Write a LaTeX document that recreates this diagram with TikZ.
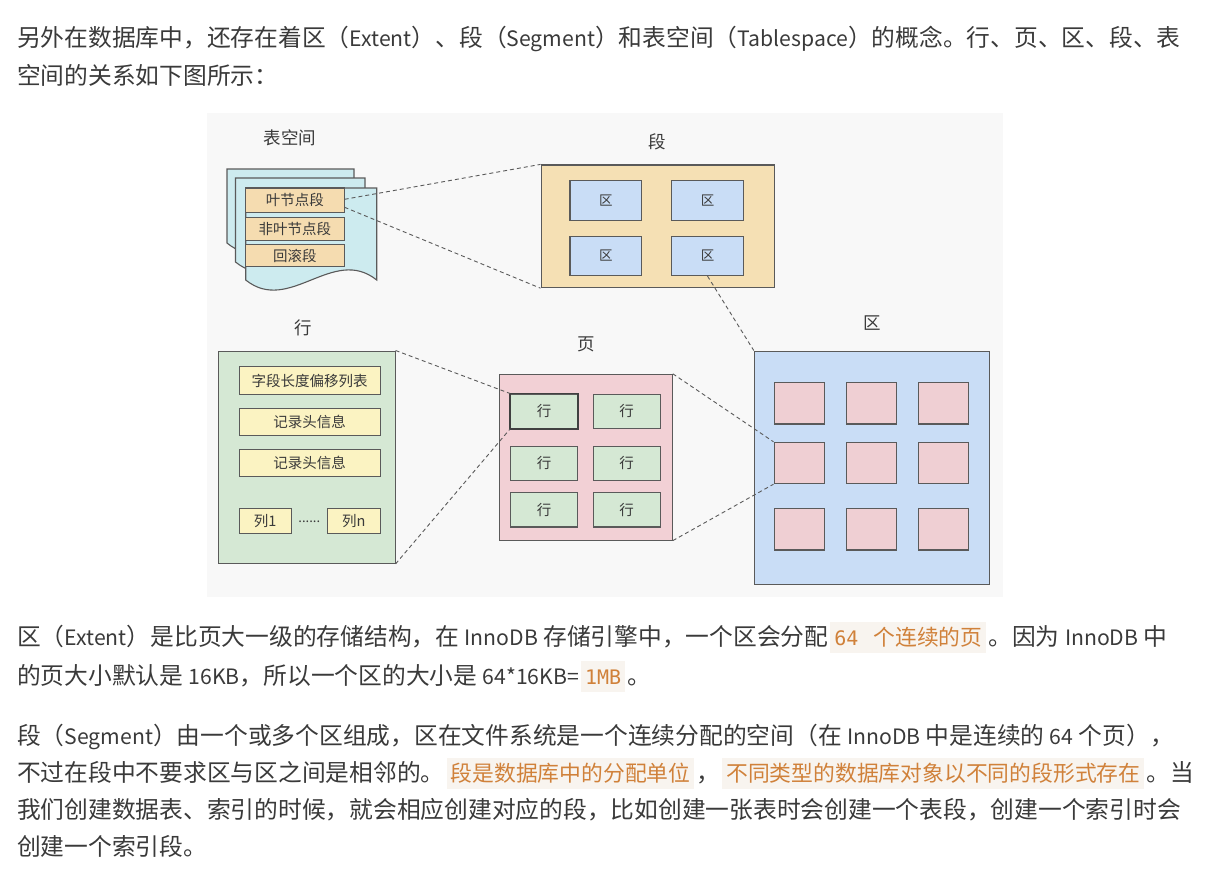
\documentclass[tikz,border=0pt]{standalone}
\usepackage{fontspec}
\setmainfont{Noto Sans CJK SC}
\newfontfamily\codefont{DejaVu Sans Mono}
\usetikzlibrary{calc}

\definecolor{txt}{HTML}{3A3A3A}
\definecolor{codeor}{HTML}{D0813A}
\definecolor{hlbg}{HTML}{F8F4EF}
\definecolor{panelbg}{HTML}{F8F8F8}
\definecolor{bord}{HTML}{5A5A5A}
\definecolor{sheetfill}{HTML}{CDEBEF}
\definecolor{segitem}{HTML}{F5DCB0}
\definecolor{segfill}{HTML}{F5E0B4}
\definecolor{extfill}{HTML}{C9DDF6}
\definecolor{rowfill}{HTML}{D5E8D4}
\definecolor{fieldfill}{HTML}{FBF3C2}
\definecolor{pagefill}{HTML}{F2D0D5}
\definecolor{slotfill}{HTML}{EFCFD3}

% Latin words inside the Chinese running text
\newcommand\lat[1]{{\fontsize{21.2}{26}\selectfont #1}}
% inline highlighted span
\newcommand\hlspan[1]{\hspace{2pt}{\setlength{\fboxsep}{0pt}\colorbox{hlbg}{\rule[-8pt]{0pt}{31pt}\hspace{4pt}\fontsize{21.8}{26}\selectfont\color{codeor}#1\hspace{4pt}}}\hspace{2pt}}
\newcommand\codetxt[1]{{\codefont\fontsize{20}{24}\selectfont #1}}

\begin{document}
\begin{tikzpicture}[x=1pt,y=-1pt,
  para/.style={anchor=base west, inner sep=0pt, text=txt, font=\fontsize{23.75}{28}\selectfont},
  cell/.style={draw=bord, line width=1.1pt, rectangle, inner sep=0pt, text=txt},
  title/.style={text=txt, inner sep=0pt, font=\fontsize{17.5}{20}\selectfont},
  small/.style={font=\fontsize{14.5}{17}\selectfont},
  tiny/.style={font=\fontsize{13.5}{16}\selectfont},
  dlink/.style={draw=bord, dash pattern=on 4pt off 3pt, line width=0.9pt},
  sheet/.style={draw=bord, line width=1.1pt, fill=sheetfill}]
\useasboundingbox (0,0) rectangle (1211,881);
\fill[white] (0,0) rectangle (1211,881);

% ---------- text above ----------
\node[para] (p1a) at (17,46) {另外在数据库中，还存在着区（\lat{Extent}）、段（\lat{Segment}）和表空间（\lat{Tablespace}）的概念。行、页、区、段、表};
\node[para] (p1b) at (17,84) {空间的关系如下图所示：};

% ---------- diagram ----------
\fill[panelbg] (207,113) rectangle (1003,597);

% tablespace: three stacked document sheets
\node[title] (tslabel) at (290,138) {表空间};
\filldraw[sheet] (227,243) -- (227,169) -- (354,169) -- (354,243)
  .. controls (311.7,208) and (269.3,278) .. cycle;
\filldraw[sheet] (235.5,262) -- (235.5,178) -- (365,178) -- (365,262)
  .. controls (321.8,227) and (278.7,297) .. cycle;
\filldraw[sheet] (245.7,280) -- (245.7,188) -- (376.7,188) -- (376.7,280)
  .. controls (333,245) and (289.4,315) .. cycle;
\node[cell, fill=segitem, small, minimum width=98.3pt, minimum height=24.7pt] (leaf) at (294.9,200.3) {叶节点段};
\node[cell, fill=segitem, small, minimum width=98.3pt, minimum height=22.7pt] (nonleaf) at (294.9,228.7) {非叶节点段};
\node[cell, fill=segitem, small, minimum width=98.3pt, minimum height=22pt] (rollback) at (294.9,255.7) {回滚段};

% segment
\node[title] (seglabel) at (657.7,142.3) {段};
\node[cell, fill=segfill, minimum width=233.3pt, minimum height=122.7pt] (seg) at (657.7,226.3) {};
\foreach \c/\x in {1/605.8, 2/707.5}{
  \foreach \r/\y in {1/200.3, 2/255.8}{
    \node[cell, fill=extfill, tiny, minimum width=71.7pt, minimum height=39.5pt] (z\r\c) at (\x,\y) {区};
  }
}

% extent
\node[title] (extlabel) at (872.3,322.7) {区};
\node[cell, fill=extfill, minimum width=235pt, minimum height=233.3pt] (ext) at (871.8,467.7) {};
\foreach \c/\x in {1/799.2, 2/871.2, 3/943.3}{
  \foreach \r/\y in {1/403.3, 2/463, 3/529.3}{
    \node[cell, fill=slotfill, minimum width=50.3pt, minimum height=41.3pt] (e\r\c) at (\x,\y) {};
  }
}

% page
\node[title] (pagelabel) at (586,344) {页};
\node[cell, fill=pagefill, minimum width=173pt, minimum height=165.7pt] (page) at (585.8,457.2) {};
\foreach \c/\x in {1/544, 2/626.7}{
  \foreach \r/\y in {1/411.2, 2/463.2, 3/509.8}{
    \node[cell, fill=rowfill, small, minimum width=66.7pt, minimum height=34.3pt] (r\r\c) at (\x,\y) {行};
  }
}
\draw[draw=black!75, line width=1.4pt] (r11.north west) rectangle (r11.south east);

% row
\node[title] (rowlabel) at (303.3,328.3) {行};
\node[cell, fill=rowfill, minimum width=176.7pt, minimum height=212.3pt] (row) at (306.7,457.2) {};
\node[cell, fill=fieldfill, small, minimum width=141.3pt, minimum height=27.6pt] (flen) at (309.7,380.5) {字段长度偏移列表};
\node[cell, fill=fieldfill, small, minimum width=141.3pt, minimum height=27.4pt] (hdr1) at (309.7,422) {记录头信息};
\node[cell, fill=fieldfill, small, minimum width=141.3pt, minimum height=27.4pt] (hdr2) at (309.7,463) {记录头信息};
\node[cell, fill=fieldfill, small, minimum width=52.3pt, minimum height=24.6pt] (col1) at (265.2,521) {列1};
\node[cell, fill=fieldfill, small, minimum width=53pt, minimum height=24.6pt] (coln) at (353.8,521) {列n};
\node[text=txt, inner sep=0pt, font=\fontsize{13}{14}\selectfont] (dots) at (309.3,522) {......};

% zoom connectors
\draw[dlink] ([yshift=1pt]leaf.east) -- (seg.north west);
\draw[dlink] ([yshift=-7pt]leaf.east) -- (seg.south west);
\draw[dlink] (z22.south) -- (ext.north west);
\draw[dlink] (page.north east) -- (e21.north west);
\draw[dlink] (page.south east) -- (e21.south west);
\draw[dlink] (row.north east) -- (r11.north west);
\draw[dlink] (row.south east) -- (r11.south west);

% ---------- text below ----------
\node[para] (p2a) at (17,645) {区（\lat{Extent}）是比页大一级的存储结构，在 \lat{InnoDB} 存储引擎中，一个区会分配\hlspan{\codetxt{64}\hspace{15pt}个连续的页}。因为 \lat{InnoDB} 中};
\node[para] (p2b) at (17,684) {的页大小默认是 \lat{16KB}，所以一个区的大小是 \lat{64*16KB=}\hlspan{\codetxt{1MB}}。};

\node[para] (p3a) at (17,744) {段（\lat{Segment}）由一个或多个区组成，区在文件系统是一个连续分配的空间（在 \lat{InnoDB} 中是连续的 \lat{64} 个页），};
\node[para] (p3b) at (17,781) {不过在段中不要求区与区之间是相邻的。\hlspan{段是数据库中的分配单位}，\hlspan{不同类型的数据库对象以不同的段形式存在}。当};
\node[para] (p3c) at (17,818) {我们创建数据表、索引的时候，就会相应创建对应的段，比如创建一张表时会创建一个表段，创建一个索引时会};
\node[para] (p3d) at (17,855) {创建一个索引段。};
\end{tikzpicture}
\end{document}
